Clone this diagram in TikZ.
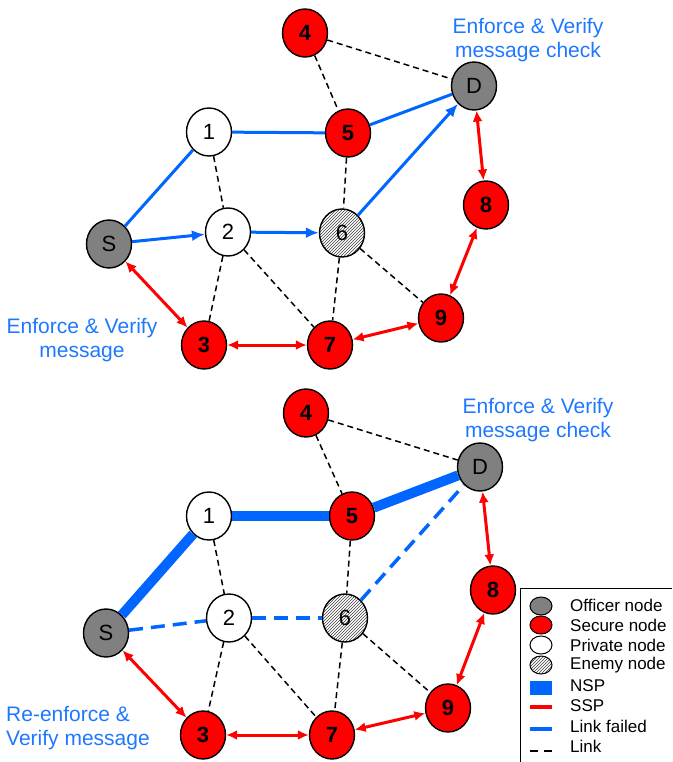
\documentclass[tikz,border=0pt]{standalone}
\usepackage{fontspec}
\setmainfont{Liberation Sans}
\usetikzlibrary{arrows.meta,patterns,shapes.geometric}
\definecolor{nblue}{RGB}{0,102,255}
\definecolor{tblue}{RGB}{30,120,255}
\definecolor{nred}{RGB}{255,0,0}
\definecolor{ngray}{RGB}{128,128,128}
\begin{document}
\begin{tikzpicture}[x=1pt,y=-1pt,
 nd/.style={ellipse,draw=black,line width=1.4pt,minimum width=45pt,minimum height=48pt,inner sep=0pt,font=\fontsize{22}{24}\selectfont},
 officer/.style={nd,fill=ngray},
 secure/.style={nd,fill=nred,font=\fontsize{22}{24}\selectfont\bfseries},
 private/.style={nd,fill=white},
 enemy/.style={nd,preaction={fill=white},pattern=north east lines,pattern color=darkgray},
 lnk/.style={black,line width=1.5pt,dash pattern=on 6pt off 4pt},
 bpath/.style={nblue,line width=3pt},
 barrow/.style={bpath,-{Latex[length=13pt,width=11pt]}},
 ssp/.style={nred,line width=3pt,{Latex[length=11pt,width=10pt]}-{Latex[length=11pt,width=10pt]}},
 nsp/.style={nblue,line width=10pt},
 failed/.style={nblue,line width=3.5pt,dash pattern=on 14pt off 8pt},
 note/.style={tblue,font=\fontsize{21}{24}\selectfont,inner sep=0pt},
 legtext/.style={anchor=west,font=\fontsize{17}{20}\selectfont,inner sep=0pt},
 legnode/.style={ellipse,draw=black,line width=1pt,minimum width=22pt,minimum height=18pt,inner sep=0pt}
]
\useasboundingbox (0,0) rectangle (672,762);

% ---------- top diagram ----------
\node[secure]  (t4) at (305,33)  {4};
\node[officer] (tD) at (474,86)  {D};
\node[private] (t1) at (209,132) {1};
\node[secure]  (t5) at (348,133) {5};
\node[secure]  (t8) at (486,205) {8};
\node[officer] (tS) at (109,244) {S};
\node[private] (t2) at (228,232) {2};
\node[enemy]   (t6) at (342,233) {6};
\node[secure]  (t9) at (441,318) {9};
\node[secure]  (t3) at (204,345) {3};
\node[secure]  (t7) at (330,345) {7};

\draw[lnk] (t4) -- (tD);
\draw[lnk] (t4) -- (t5);
\draw[lnk] (t1) -- (t2);
\draw[lnk] (t5) -- (t6);
\draw[lnk] (t2) -- (t3);
\draw[lnk] (t2) -- (t7);
\draw[lnk] (t6) -- (t7);
\draw[lnk] (t6) -- (t9);

\draw[bpath] (tS) -- (t1);
\draw[bpath] (t1) -- (t5);
\draw[bpath] (t5) -- (tD);
\draw[barrow] (tS) -- (t2);
\draw[barrow] (t2) -- (t6);
\draw[barrow] (t6) -- (tD);

\draw[ssp] (tS) -- (t3);
\draw[ssp] (t3) -- (t7);
\draw[ssp] (t7) -- (t9);
\draw[ssp] (t9) -- (t8);
\draw[ssp] (t8) -- (tD);

\node[note,align=center] (tn1) at (528,40) {Enforce \& Verify\\message check};
\node[note,align=center] (tn2) at (82,340) {Enforce \& Verify\\message};

% ---------- bottom diagram ----------
\node[secure]  (b4) at (306,413) {4};
\node[officer] (bD) at (480,467) {D};
\node[private] (b1) at (209,516) {1};
\node[secure]  (b5) at (352,516) {5};
\node[secure]  (b8) at (493,590) {8};
\node[officer] (bS) at (106,633) {S};
\node[private] (b2) at (229,618) {2};
\node[enemy]   (b6) at (345,618) {6};
\node[secure]  (b9) at (448,708) {9};
\node[secure]  (b3) at (203,735) {3};
\node[secure]  (b7) at (332,735) {7};

\draw[lnk] (b4) -- (bD);
\draw[lnk] (b4) -- (b5);
\draw[lnk] (b1) -- (b2);
\draw[lnk] (b5) -- (b6);
\draw[lnk] (b2) -- (b3);
\draw[lnk] (b2) -- (b7);
\draw[lnk] (b6) -- (b7);
\draw[lnk] (b6) -- (b9);

\draw[nsp] (bS) -- (b1);
\draw[nsp] (b1) -- (b5);
\draw[nsp] (b5) -- (bD);
\draw[failed] (bS) -- (b2);
\draw[failed] (b2) -- (b6);
\draw[failed] (b6) -- (bD);

\draw[ssp] (bS) -- (b3);
\draw[ssp] (b3) -- (b7);
\draw[ssp] (b7) -- (b9);
\draw[ssp] (b9) -- (b8);
\draw[ssp] (b8) -- (bD);

\node[note,align=center] (bn1) at (538,420) {Enforce \& Verify\\message check};
\node[note,align=left,anchor=west] (bn2) at (6,728) {Re-enforce \&\\Verify message};

% ---------- legend ----------
\draw[line width=1pt] (520,762) -- (520,588) -- (672,588);
\node[legnode,fill=ngray] (l1) at (541,606) {};
\node[legnode,fill=nred] (l2) at (541,625) {};
\node[legnode,fill=white] (l3) at (541,645) {};
\node[legnode,preaction={fill=white},pattern=north east lines,pattern color=darkgray] (l4) at (541,665) {};
\node[fill=nblue,minimum width=22pt,minimum height=14pt,inner sep=0pt] (l5) at (541,688) {};
\coordinate (l6a) at (530,707); \coordinate (l6b) at (552,707);
\draw[nred,line width=4pt] (l6a) -- (l6b);
\coordinate (l7a) at (530,729); \coordinate (l7b) at (552,729);
\draw[nblue,line width=4pt] (l7a) -- (l7b);
\coordinate (l8a) at (530,751); \coordinate (l8b) at (552,751);
\draw[black,line width=2pt,dash pattern=on 8pt off 6pt] (l8a) -- (l8b);

\node[legtext] (t1l) at (570,605) {Officer node};
\node[legtext] (t2l) at (570,625) {Secure node};
\node[legtext] (t3l) at (570,645) {Private node};
\node[legtext] (t4l) at (570,665) {Enemy node};
\node[legtext] (t5l) at (570,686) {NSP};
\node[legtext] (t6l) at (570,706) {SSP};
\node[legtext] (t7l) at (570,726) {Link failed};
\node[legtext] (t8l) at (570,746) {Link};
\end{tikzpicture}
\end{document}
